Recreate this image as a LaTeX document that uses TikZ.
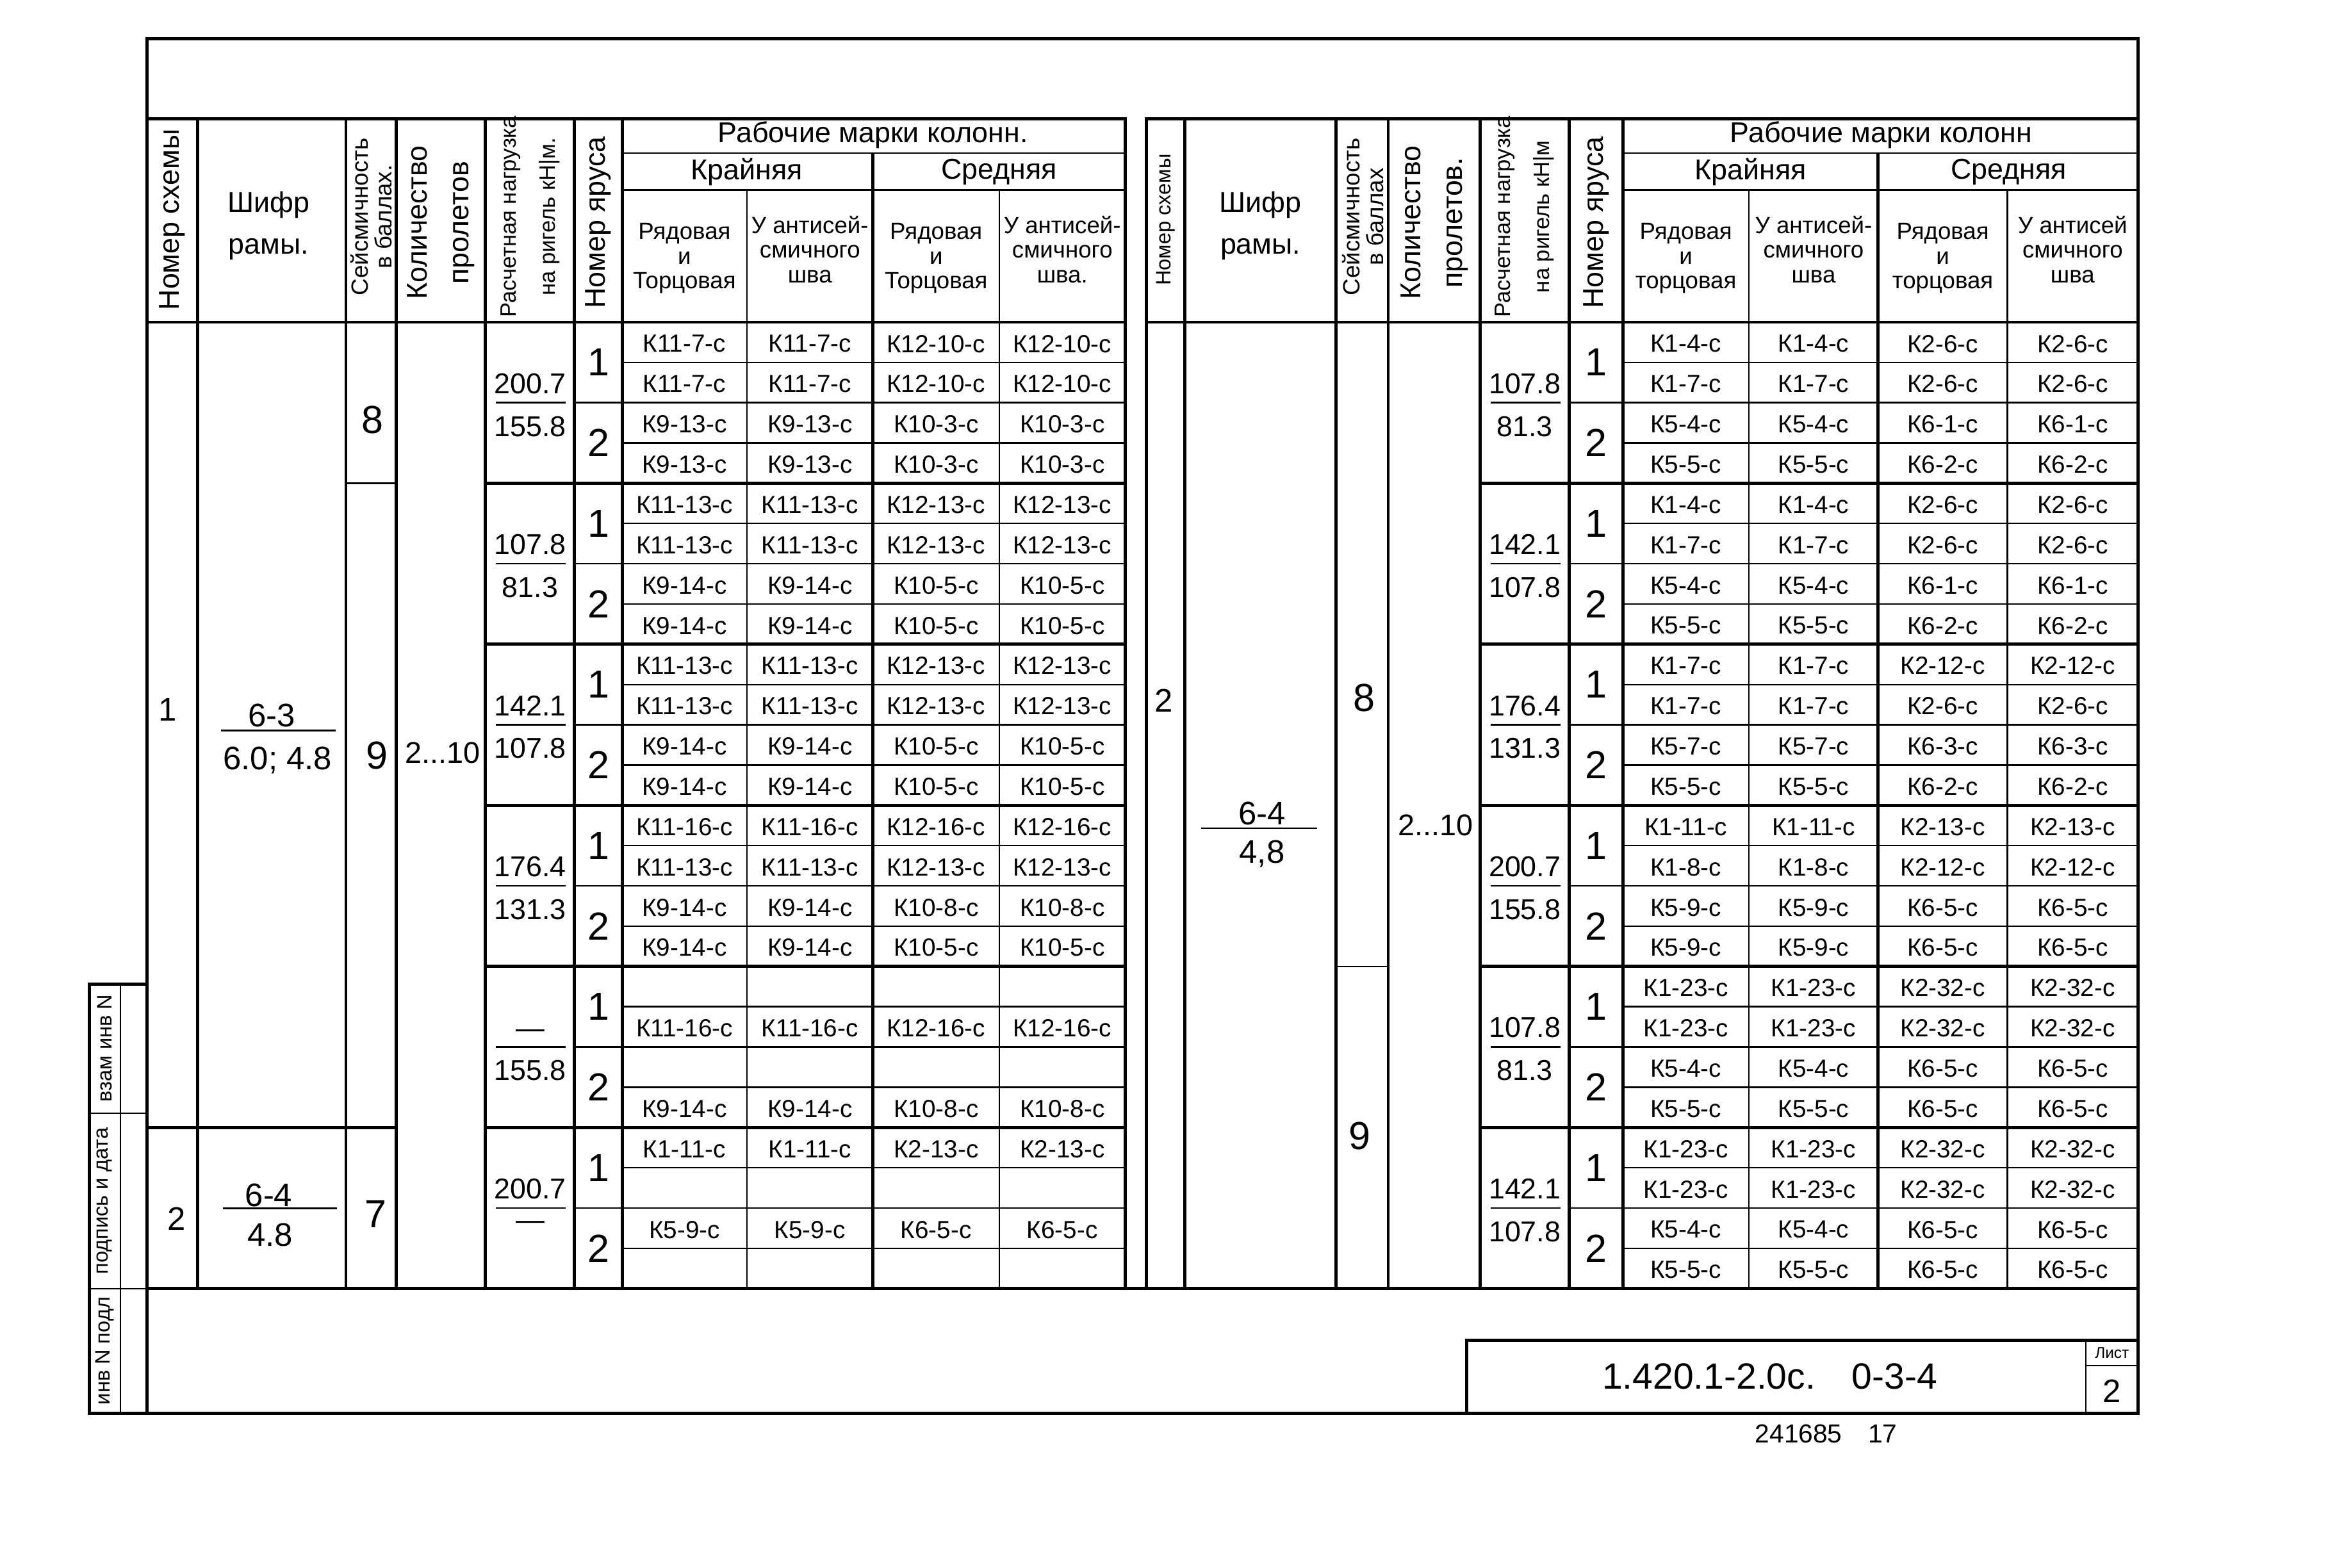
\documentclass[tikz,border=0pt]{standalone}
\usepackage{fontspec}
\setmainfont{Liberation Sans}
\usepackage{tikz}
\tikzstyle{heavy}=[line width=1.2pt]
\tikzstyle{fine}=[line width=0.6pt]
\tikzstyle{colmark}=[inner sep=1pt, font=\fontsize{9.5}{11}\selectfont]
\tikzstyle{num}=[inner sep=1pt, font=\fontsize{11}{12}\selectfont]
\tikzstyle{big}=[inner sep=1pt, font=\fontsize{12.5}{14}\selectfont]
\tikzstyle{digit}=[inner sep=1pt, font=\fontsize{15}{16}\selectfont]
\tikzstyle{head}=[inner sep=1pt, align=center, font=\fontsize{11}{16}\selectfont]
\tikzstyle{subhead}=[inner sep=1pt, align=center, font=\fontsize{9}{9.5}\selectfont]
\tikzstyle{vert}=[inner sep=1pt, align=center, rotate=90, font=\fontsize{11}{16}\selectfont]

\begin{document}
\begin{tikzpicture}[x=0.02cm, y=-0.02cm]
\useasboundingbox (0,0) rectangle (1568,1056);

% frame and stamp
\draw[heavy] (99,26) rectangle (1440,952);
\draw[heavy] (99,868) -- (1440,868);
\draw[heavy] (60,663) rectangle (99,952);
\draw[fine] (81,663) -- (81,952) (60,750) -- (99,750) (60,868) -- (99,868);
\node[vert, font=\fontsize{8}{9}\selectfont] (stamp1) at (70.5,706) {взам инв N};
\node[vert, font=\fontsize{8}{9}\selectfont] (stamp2) at (70.5,809) {подпись и дата};
\node[vert, font=\fontsize{8}{9}\selectfont] (stamp3) at (70.5,910) {инв N подл};

% title block
\draw[heavy] (988,903) rectangle (1440,952);
\draw[fine] (1405,903) -- (1405,952) (1405,920) -- (1440,920);
\node[inner sep=1pt, font=\fontsize{14}{15}\selectfont] (code) at (1192,927) {1.420.1-2.0с.\quad 0-3-4};
\node[inner sep=0.5pt, font=\fontsize{6}{7}\selectfont] (sheet) at (1422.5,911.5) {Лист};
\node[big] (sheetno) at (1422.5,937) {2};
\node[inner sep=1pt, font=\fontsize{10}{11}\selectfont] (inv) at (1230,966) {241685\quad 17};

% grids of both tables
\foreach \xl/\xs/\xc/\xe/\xk/\xn/\xy/\xm/\xh/\xq/\xr in {99/133/233/267/327/387/419/503/588/673/758, 772/798/900/935/997/1057/1093/1178/1265/1352/1440}{
  \draw[heavy] (\xl,80) rectangle (\xr,868);
  \draw[heavy] (\xl,217) -- (\xr,217);
  \foreach \x in {\xs,\xc,\xe,\xk,\xn,\xy} \draw[heavy] (\x,80) -- (\x,868);
  \draw[fine] (\xy,103) -- (\xr,103) (\xy,128) -- (\xr,128);
  \draw[heavy] (\xh,103) -- (\xh,868);
  \draw[fine] (\xm,128) -- (\xm,868) (\xq,128) -- (\xq,868);
  \foreach \g in {1,...,5} \draw[heavy] (\xk,217+\g*108.5) -- (\xr,217+\g*108.5);
  \foreach \g in {0,...,5} \draw[fine] (\xn,271.25+\g*108.5) -- (\xr,271.25+\g*108.5);
  \foreach \r in {1,3,...,23} \draw[fine] (\xy,217+\r*27.125) -- (\xr,217+\r*27.125);
}
\draw[fine] (233,325.5) -- (267,325.5);
\draw[heavy] (99,759.5) -- (267,759.5);
\draw[fine] (900,651) -- (935,651);

% left table headings
\node[vert] (Lnum) at (116,148) {Номер схемы};
\node[head] (Lcode) at (181,152) {Шифр\\рамы.};
\node[vert, font=\fontsize{9}{9}\selectfont] (Lseis) at (250,146) {Сейсмичность\\в баллах.};
\node[vert] (Lspan) at (297,150) {Количество\\пролетов};
\node[vert, font=\fontsize{8.5}{15}\selectfont] (Lload) at (357,146) {Расчетная нагрузка\\на ригель кН|м.};
\node[vert] (Ltier) at (403,150) {Номер яруса};
\node[head] (Lwork) at (588,91) {Рабочие марки колонн.};
\node[head] (Lext) at (503,116) {Крайняя};
\node[head] (Lmid) at (673,116) {Средняя};
\node[subhead] (Lext1) at (461,174) {Рядовая\\и\\Торцовая};
\node[subhead] (Lext2) at (545.5,168) {У антисей-\\смичного\\шва};
\node[subhead] (Lmid1) at (630.5,174) {Рядовая\\и\\Торцовая};
\node[subhead] (Lmid2) at (715.5,168) {У антисей-\\смичного\\шва.};

% right table headings
\node[vert, font=\fontsize{8}{9}\selectfont] (Rnum) at (785,148) {Номер схемы};
\node[head] (Rcode) at (849,152) {Шифр\\рамы.};
\node[vert, font=\fontsize{9}{9}\selectfont] (Rseis) at (918,146) {Сейсмичность\\в баллах};
\node[vert] (Rspan) at (966,150) {Количество\\пролетов.};
\node[vert, font=\fontsize{8.5}{15}\selectfont] (Rload) at (1027,146) {Расчетная нагрузка\\на ригель кН|м};
\node[vert] (Rtier) at (1075,150) {Номер яруса};
\node[head] (Rwork) at (1267,91) {Рабочие марки колонн};
\node[head] (Rext) at (1179,116) {Крайняя};
\node[head] (Rmid) at (1353,116) {Средняя};
\node[subhead] (Rext1) at (1135.5,174) {Рядовая\\и\\торцовая};
\node[subhead] (Rext2) at (1221.5,168) {У антисей-\\смичного\\шва};
\node[subhead] (Rmid1) at (1308.5,174) {Рядовая\\и\\торцовая};
\node[subhead] (Rmid2) at (1396,168) {У антисей\\смичного\\шва};

% merged cells
\node[big] (L1) at (113,478) {1};
\node[big] (L2) at (119,821) {2};
\node[big] (Lc1a) at (183,482) {6-3};
\draw[fine] (149,492) -- (226,492);
\node[big] (Lc1b) at (187,512) {6.0; 4.8};
\node[big] (Lc2a) at (181,805) {6-4};
\draw[fine] (150,814) -- (227,814);
\node[big] (Lc2b) at (182,832) {4.8};
\node[digit] (Ls8) at (251,283) {8};
\node[digit] (Ls9) at (254,509) {9};
\node[digit] (Ls7) at (253,818) {7};
\node[big, font=\fontsize{11.5}{13}\selectfont] (Lsp) at (298,507) {2...10};
\node[big] (R1) at (784,472) {2};
\node[big] (Rc1a) at (850,548) {6-4};
\draw[fine] (809,558) -- (887,558);
\node[big] (Rc1b) at (850,575) {4,8};
\node[digit] (Rs8) at (919,470) {8};
\node[digit] (Rs9) at (916,765) {9};
\node[big, font=\fontsize{11.5}{13}\selectfont] (Rsp) at (967,556) {2...10};

% tiers
\foreach \xn/\t in {403/L, 1075/R}
  \foreach \g in {0,...,5}{
    \node[digit] (\t-t\g a) at (\xn,244.125+\g*108.5) {1};
    \node[digit] (\t-t\g b) at (\xn,298.375+\g*108.5) {2};
  }

% loads
\foreach \g/\nu/\de in {1/200.7/155.8, 2/107.8/81.3, 3/142.1/107.8, 4/176.4/131.3, 5/—/155.8, 6/200.7/—}{
  \draw[fine] (334,162.75+\g*108.5) -- (381,162.75+\g*108.5);
  \node[num, anchor=south] (Lq\g) at (357,158.75+\g*108.5) {\nu};
  \node[num, anchor=north] (Lp\g) at (357,169.75+\g*108.5) {\de};
}
\foreach \g/\nu/\de in {1/107.8/81.3, 2/142.1/107.8, 3/176.4/131.3, 4/200.7/155.8, 5/107.8/81.3, 6/142.1/107.8}{
  \draw[fine] (1004,162.75+\g*108.5) -- (1051,162.75+\g*108.5);
  \node[num, anchor=south] (Rq\g) at (1027,158.75+\g*108.5) {\nu};
  \node[num, anchor=north] (Rp\g) at (1027,169.75+\g*108.5) {\de};
}

% column marks, left table
\foreach \r/\a/\b in {1/К11-7-с/К12-10-с, 2/К11-7-с/К12-10-с, 3/К9-13-с/К10-3-с, 4/К9-13-с/К10-3-с,
  5/К11-13-с/К12-13-с, 6/К11-13-с/К12-13-с, 7/К9-14-с/К10-5-с, 8/К9-14-с/К10-5-с,
  9/К11-13-с/К12-13-с, 10/К11-13-с/К12-13-с, 11/К9-14-с/К10-5-с, 12/К9-14-с/К10-5-с,
  13/К11-16-с/К12-16-с, 14/К11-13-с/К12-13-с, 15/К9-14-с/К10-8-с, 16/К9-14-с/К10-5-с,
  18/К11-16-с/К12-16-с, 20/К9-14-с/К10-8-с, 21/К1-11-с/К2-13-с, 23/К5-9-с/К6-5-с}{
  \node[colmark] (L\r-1) at (461,204.4375+\r*27.125) {\a};
  \node[colmark] (L\r-2) at (545.5,204.4375+\r*27.125) {\a};
  \node[colmark] (L\r-3) at (630.5,204.4375+\r*27.125) {\b};
  \node[colmark] (L\r-4) at (715.5,204.4375+\r*27.125) {\b};
}

% column marks, right table
\foreach \r/\a/\b in {1/К1-4-с/К2-6-с, 2/К1-7-с/К2-6-с, 3/К5-4-с/К6-1-с, 4/К5-5-с/К6-2-с,
  5/К1-4-с/К2-6-с, 6/К1-7-с/К2-6-с, 7/К5-4-с/К6-1-с, 8/К5-5-с/К6-2-с,
  9/К1-7-с/К2-12-с, 10/К1-7-с/К2-6-с, 11/К5-7-с/К6-3-с, 12/К5-5-с/К6-2-с,
  13/К1-11-с/К2-13-с, 14/К1-8-с/К2-12-с, 15/К5-9-с/К6-5-с, 16/К5-9-с/К6-5-с,
  17/К1-23-с/К2-32-с, 18/К1-23-с/К2-32-с, 19/К5-4-с/К6-5-с, 20/К5-5-с/К6-5-с,
  21/К1-23-с/К2-32-с, 22/К1-23-с/К2-32-с, 23/К5-4-с/К6-5-с, 24/К5-5-с/К6-5-с}{
  \node[colmark] (R\r-1) at (1135.5,204.4375+\r*27.125) {\a};
  \node[colmark] (R\r-2) at (1221.5,204.4375+\r*27.125) {\a};
  \node[colmark] (R\r-3) at (1308.5,204.4375+\r*27.125) {\b};
  \node[colmark] (R\r-4) at (1396,204.4375+\r*27.125) {\b};
}
\end{tikzpicture}
\end{document}
